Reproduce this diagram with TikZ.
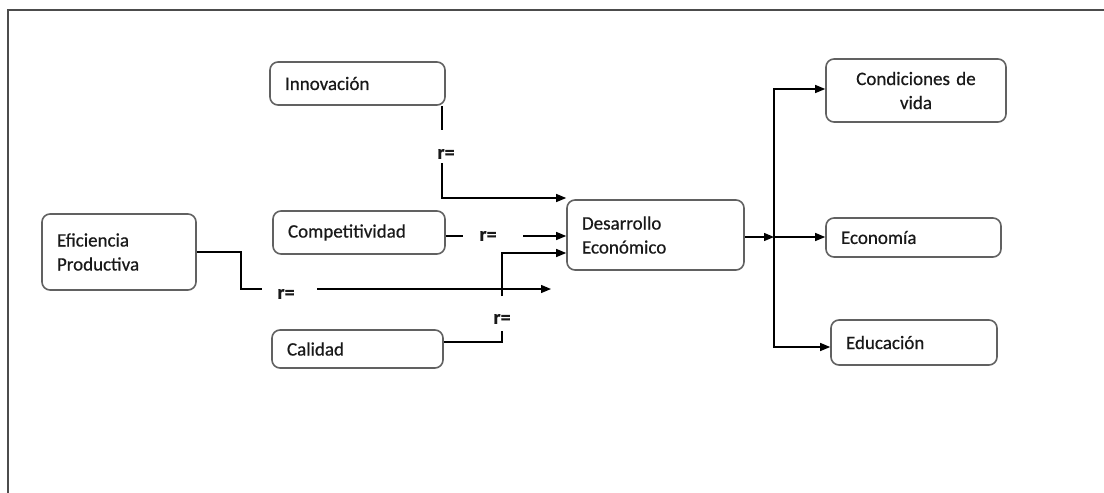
\documentclass[tikz,border=0pt]{standalone}
\usepackage{fontspec}
\setmainfont{Carlito}
\newfontfamily\boxfont[FakeBold=0.6]{Carlito}
\newfontfamily\rfont[FakeBold=0.5]{Carlito Bold}
\usetikzlibrary{arrows.meta}
\begin{document}
\begin{tikzpicture}[x=1pt,y=-1pt,
  box/.style={draw=black!62, line width=1.6pt, rounded corners=8pt, inner xsep=15pt, inner ysep=0pt,
    align=left, font=\boxfont\fontsize{19}{24}\selectfont, text=black!90},
  rlab/.style={inner sep=0pt, font=\rfont\fontsize{20}{24}\selectfont, text=black!90},
  conn/.style={line width=1.3pt, black},
  arr/.style={conn, -{Triangle[length=10pt,width=8pt]}},
  framec/.style={line width=1.5pt, black!70}]
\useasboundingbox (0,0) rectangle (1104,493);
% frame
\coordinate (fa) at (8,494);
\coordinate (fb) at (8,10);
\coordinate (fc) at (1105,10);
\draw[framec] (fa) -- (fb) -- (fc);
% nodes
\node[box, text width=145pt, minimum height=43pt] (innov) at (357.5,83.5) {Innovación};
\node[box, text width=142pt, minimum height=43pt] (comp) at (359,232.5) {Competitividad};
\node[box, text width=141pt, minimum height=38pt] (cal) at (357.5,349) {Calidad};
\node[box, text width=124pt, minimum height=76pt] (efi) at (119,252) {Eficiencia\\Productiva};
\node[box, text width=147pt, minimum height=70pt] (des) at (655.5,235) {Desarrollo\\Económico};
\node[box, text width=150pt, minimum height=63pt, align=center] (cond) at (916,90.5) {\raisebox{-6pt}{\parbox{150pt}{\centering Condiciones de\\vida}}};
\node[box, text width=145pt, minimum height=39pt] (eco) at (913.5,237.5) {Economía};
\node[box, text width=136pt, minimum height=45pt] (edu) at (914,342.5) {Educación};
% labels
\node[rlab] (r1) at (446,154) {r=};
\node[rlab] (r2) at (488,236) {r=};
\node[rlab] (r3) at (286,294) {r=};
\node[rlab] (r4) at (502,319) {r=};
% Innovacion connector
\coordinate (i1) at (442,130);
\coordinate (i2) at (442,163);
\coordinate (i3) at (442,198);
\draw[conn] (innov.south -| i1) -- (i1);
\draw[arr] (i2) |- (des.west |- i3);
% Competitividad connector
\coordinate (c1) at (463,236);
\coordinate (c2) at (523,236);
\draw[conn] (comp.east |- c1) -- (c1);
\draw[arr] (c2) -- (des.west |- c2);
% Eficiencia connector
\coordinate (e1) at (241,289);
\coordinate (e2) at (262,289);
\coordinate (e3) at (317,289);
\coordinate (e4) at (551,289);
\draw[conn] (efi.east) -| (e1) -- (e2);
\draw[arr] (e3) -- (e4);
% Calidad connector
\coordinate (q0) at (502,342);
\coordinate (q1) at (502,331);
\coordinate (q2) at (502,296);
\coordinate (q3) at (502,253);
\draw[conn] (cal.east |- q0) -- (q0) -- (q1);
\draw[arr] (q2) |- (des.west |- q3);
% outputs
\coordinate (o0) at (774,237);
\coordinate (o1) at (774,89);
\coordinate (o3) at (774,347);
\draw[arr] (des.east |- o0) -- (o0);
\draw[arr] (o0) -- (o1) -- (cond.west |- o1);
\draw[arr] (o0) -- (eco.west |- o0);
\draw[arr] (o0) -- (o3) -- (edu.west |- o3);
\end{tikzpicture}
\end{document}
